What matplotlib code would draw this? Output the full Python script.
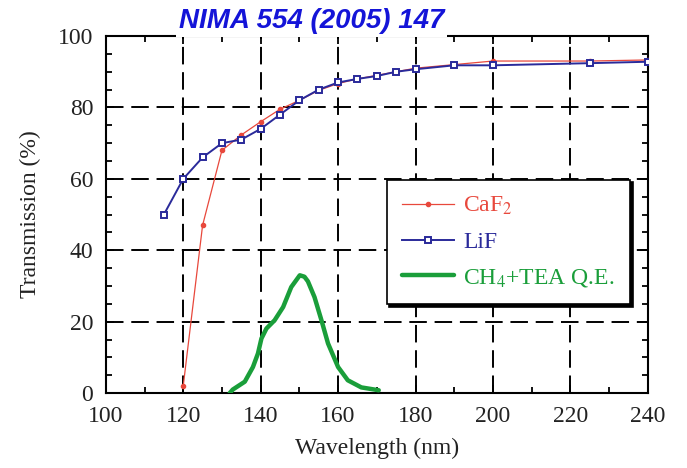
import matplotlib
matplotlib.use("Agg")
import matplotlib.pyplot as plt
from matplotlib.ticker import MultipleLocator

plt.rcParams["mathtext.fontset"] = "stix"

# --- Data ---
lif_wl = [115, 120, 125, 130, 135, 140, 145, 150, 155, 160, 165, 170, 175, 180, 190, 200, 225, 240]
lif_tr = [50, 60, 66, 70, 71, 74, 78, 82, 85, 87, 88, 88.8, 90, 90.7, 91.8, 91.8, 92.4, 92.8]

caf2_wl = [120, 125, 130, 135, 140, 145, 150, 155, 160, 165, 170, 175, 180, 190, 200, 225, 240]
caf2_tr = [2, 47, 68, 72.3, 76, 79.5, 82, 84.8, 86.7, 88, 89, 90, 91, 92, 93, 93, 93.3]

qe_wl = [132, 132.8, 135.9, 138.0, 139.3, 140.2, 141.5, 143.6, 145.8, 147.9, 150.1,
         151.3, 152.2, 153.9, 155.7, 157.4, 160, 162.5, 166, 169.4, 170.5]
qe_val = [0, 1.0, 3.2, 7.3, 11.1, 15.3, 18.1, 20.4, 24.1, 29.7, 33.0,
          32.6, 31.3, 26.9, 20.4, 13.9, 7.3, 3.6, 1.6, 1.0, 0.8]

serif = ["Liberation Serif", "DejaVu Serif"]
txt_col = "#222222"

fig = plt.figure(figsize=(6.87, 4.68), dpi=100)
ax = fig.add_axes([0.154, 0.160, 0.789, 0.763])

ax.plot(caf2_wl, caf2_tr, color="#e8483c", lw=0.9, marker="o", ms=3,
        label=r"CaF$_2$", zorder=3)
ax.plot(lif_wl, lif_tr, color="#2a2a9a", lw=1.4, marker="s", ms=5,
        mfc="white", mec="#2a2a9a", mew=1.4, label="LiF", zorder=4)
ax.plot(qe_wl, qe_val, color="#1a9e3a", lw=3.2, label=r"CH$_4$+TEA Q.E.",
        solid_joinstyle="round", solid_capstyle="round", zorder=5)

ax.set_xlim(100, 240)
ax.set_ylim(0, 100)
ax.xaxis.set_major_locator(MultipleLocator(20))
ax.xaxis.set_minor_locator(MultipleLocator(10))
ax.yaxis.set_major_locator(MultipleLocator(20))
ax.yaxis.set_minor_locator(MultipleLocator(5))
ax.tick_params(which="both", direction="in", top=True, right=True, width=1.3)
ax.tick_params(which="major", length=6, labelsize=17, pad=9)
ax.tick_params(which="minor", length=4)
for lab in ax.get_xticklabels() + ax.get_yticklabels():
    lab.set_family(serif)
    lab.set_color(txt_col)

ax.grid(True, which="major", color="black", lw=1.4, ls=(0, (9, 4)))
for s in ax.spines.values():
    s.set_linewidth(1.5)

ax.set_xlabel("Wavelength (nm)", family=serif, fontsize=17, color=txt_col, labelpad=8)
ax.set_ylabel("Transmission (%)", family=serif, fontsize=17, color=txt_col, labelpad=12)

leg = ax.legend(loc="upper left", bbox_to_anchor=(0.518, 0.598), prop={"family": serif, "size": 17},
                frameon=True, fancybox=False, shadow={"color": "black", "alpha": 1},
                framealpha=1, edgecolor="black", handlelength=2.2, handletextpad=0.4,
                borderpad=0.65, labelspacing=0.6, borderaxespad=0)
leg.get_frame().set_linewidth(1.2)
for txt, c in zip(leg.get_texts(), ["#e8483c", "#2a2a9a", "#1a9e3a"]):
    txt.set_color(c)

# title box sits over the top spine, as in the reference
fig.text(0.453, 0.955, "NIMA 554 (2005) 147", color="#1414d8", fontsize=20,
         fontweight="bold", fontstyle="italic", family="Liberation Sans",
         ha="center", va="center", zorder=10,
         bbox=dict(facecolor="white", edgecolor="none", pad=2))

fig.savefig("out.png", dpi=100)
